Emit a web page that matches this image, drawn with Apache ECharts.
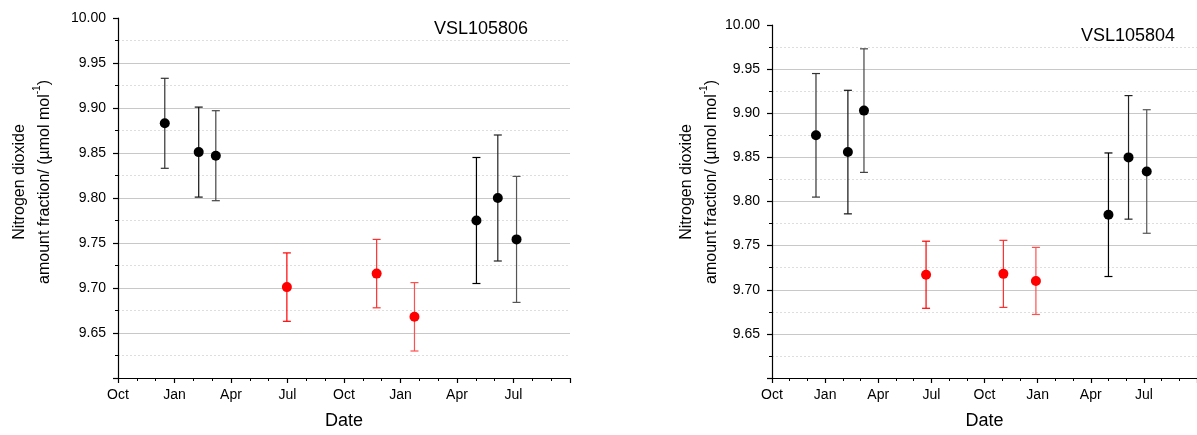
<!DOCTYPE html>
<html>
<head>
<meta charset="utf-8">
<script src="https://cdn.jsdelivr.net/npm/echarts@6/dist/echarts.min.js"></script>
<style>
  html, body { margin: 0; padding: 0; background: #fff; }
  #main { width: 1197px; height: 435px; }
</style>
</head>
<body>
<div id="main"></div>
<script>
// 数据：两个样品瓶的测量结果（值 ± 扩展不确定度）
var startYear = 2016, startMonth = 10;   // x轴从 Oct 开始
var monthTicks = ['Oct', 'Jan', 'Apr', 'Jul'];

var datesL = ['2016-12-16', '2017-02-09', '2017-03-07', '2017-06-30', '2017-11-23', '2018-01-24', '2018-05-02', '2018-06-06', '2018-07-06'];
var valuesL = [9.883, 9.851, 9.847, 9.701, 9.716, 9.668, 9.775, 9.800, 9.754];
var uncL = [0.050, 0.050, 0.050, 0.038, 0.038, 0.038, 0.070, 0.070, 0.070];
var groupL = ['ref', 'ref', 'ref', 'check', 'check', 'check', 'ref', 'ref', 'ref'];

var datesR = ['2016-12-16', '2017-02-09', '2017-03-07', '2017-06-22', '2017-11-03', '2017-12-29', '2018-05-01', '2018-06-05', '2018-07-06'];
var valuesR = [9.875, 9.856, 9.903, 9.717, 9.718, 9.710, 9.785, 9.850, 9.834];
var uncR = [0.070, 0.070, 0.070, 0.038, 0.038, 0.038, 0.070, 0.070, 0.070];
var groupR = ['ref', 'ref', 'ref', 'check', 'check', 'check', 'ref', 'ref', 'ref'];

var titles = ['VSL105806', 'VSL105804'];

// 样式
var FONT = '"Liberation Sans", Arial, sans-serif';
var markColor = { ref: '#000000', check: '#ff0000' };
var errShade = ['#333333', '#111111', '#444444', '#ff0000', '#ff3030', '#ff5050', '#000000', '#222222', '#555555'];

// 日期 -> 从起始月算起的月数
function monthOffset(s) {
    var p = s.split('-');
    var y = parseInt(p[0]), m = parseInt(p[1]), d = parseInt(p[2]);
    var dim = new Date(y, m, 0).getDate();
    return (y - startYear) * 12 + (m - startMonth) + (d - 1) / dim;
}

function buildSeries(idx, dates, values, unc, group) {
    var pts = [], err = [];
    for (let i = 0; i < dates.length; i++) {
        let x = monthOffset(dates[i]);
        pts.push({ value: [x, values[i]], itemStyle: { color: markColor[group[i]], opacity: 1 } });
        err.push([x, values[i] - unc[i], values[i] + unc[i], i]);
    }
    return [{
        type: 'custom',
        xAxisIndex: idx, yAxisIndex: idx,
        data: err,
        z: 2,
        renderItem: function (params, api) {
            var lo = api.coord([api.value(0), api.value(1)]);
            var hi = api.coord([api.value(0), api.value(2)]);
            var c = errShade[api.value(3)];
            var hw = 4;
            var st = { stroke: c, lineWidth: 1.2 };
            return {
                type: 'group',
                children: [
                    { type: 'line', shape: { x1: lo[0], y1: lo[1], x2: hi[0], y2: hi[1] }, style: st },
                    { type: 'line', shape: { x1: lo[0] - hw, y1: lo[1], x2: lo[0] + hw, y2: lo[1] }, style: st },
                    { type: 'line', shape: { x1: hi[0] - hw, y1: hi[1], x2: hi[0] + hw, y2: hi[1] }, style: st }
                ]
            };
        }
    }, {
        type: 'scatter',
        xAxisIndex: idx, yAxisIndex: idx,
        symbol: 'circle',
        symbolSize: 10,
        itemStyle: { opacity: 1 },
        z: 3,
        data: pts
    }];
}

function xAxisCfg(idx) {
    return {
        type: 'value', gridIndex: idx,
        min: 0, max: 24, interval: 3,
        name: 'Date', nameLocation: 'middle', nameGap: 34,
        nameTextStyle: { fontSize: 18, color: '#000', fontFamily: FONT },
        axisLine: { lineStyle: { color: '#000', width: 1.2 } },
        axisTick: { length: 5, lineStyle: { color: '#000', width: 1.2 } },
        minorTick: { show: true, splitNumber: 3, length: 3, lineStyle: { color: '#000', width: 1 } },
        splitLine: { show: false },
        axisLabel: {
            fontSize: 14, color: '#000', fontFamily: FONT, margin: 10,
            showMaxLabel: false,
            formatter: function (v) { return monthTicks[Math.round(v / 3) % 4]; }
        }
    };
}

function yAxisCfg(idx) {
    return {
        type: 'value', gridIndex: idx,
        min: 9.6, max: 10.0, interval: 0.05,
        axisLine: { show: true, lineStyle: { color: '#000', width: 1.2 } },
        axisTick: { show: true, length: 5, lineStyle: { color: '#000', width: 1.2 } },
        minorTick: { show: true, splitNumber: 2, length: 3, lineStyle: { color: '#000', width: 1 } },
        splitLine: { show: true, showMaxLine: false, lineStyle: { color: '#c8c8c8', width: 1 } },
        minorSplitLine: { show: true, lineStyle: { color: '#dedede', width: 1, type: [2, 2] } },
        axisLabel: {
            fontSize: 14, color: '#000', fontFamily: FONT, margin: 12,
            showMinLabel: false,
            formatter: function (v) { return v.toFixed(2); }
        }
    };
}

function yTitle(cx, cy) {
    return {
        type: 'text', x: cx, y: cy, rotation: Math.PI / 2,
        style: {
            text: '{a|Nitrogen dioxide}\n{a|amount fraction/ (µmol mol}{s|-1}{a|)}',
            align: 'center', verticalAlign: 'middle',
            fill: '#000',
            rich: {
                a: { fontSize: 16, fontFamily: FONT, lineHeight: 25, fill: '#000' },
                s: { fontSize: 10, fontFamily: FONT, lineHeight: 25, fill: '#000', verticalAlign: 'top', padding: [0, 0, 8, 0] }
            }
        }
    };
}

var myChart = echarts.init(document.getElementById('main'), null, { renderer: 'canvas' });

var option = {
    animation: false,
    backgroundColor: '#fff',
    title: [
        { text: titles[0], left: 434, top: 20, padding: 0, textStyle: { fontSize: 18, fontWeight: 'normal', color: '#000', fontFamily: FONT } },
        { text: titles[1], left: 1081, top: 27, padding: 0, textStyle: { fontSize: 18, fontWeight: 'normal', color: '#000', fontFamily: FONT } }
    ],
    grid: [
        { left: 118, top: 18, width: 452, height: 363 },
        { left: 772, top: 25, width: 442, height: 354 }
    ],
    xAxis: [xAxisCfg(0), xAxisCfg(1)],
    yAxis: [yAxisCfg(0), yAxisCfg(1)],
    graphic: [yTitle(32, 182), yTitle(699, 182)],
    series: buildSeries(0, datesL, valuesL, uncL, groupL).concat(buildSeries(1, datesR, valuesR, uncR, groupR))
};

myChart.setOption(option);
</script>
</body>
</html>
